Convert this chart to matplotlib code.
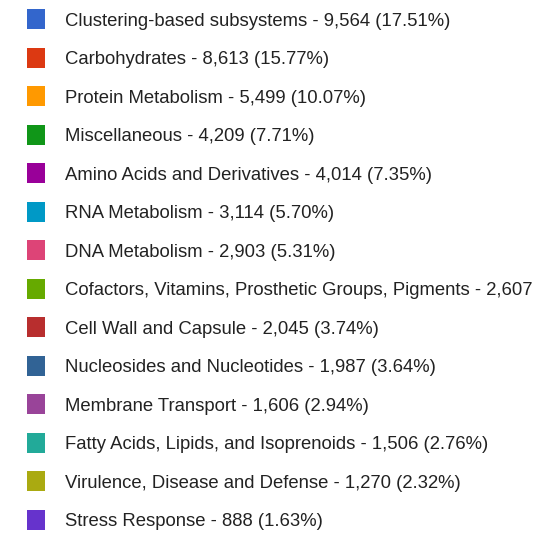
import matplotlib
matplotlib.use("Agg")
import matplotlib.pyplot as plt

categories = [
    "Clustering-based subsystems", "Carbohydrates", "Protein Metabolism",
    "Miscellaneous", "Amino Acids and Derivatives", "RNA Metabolism",
    "DNA Metabolism", "Cofactors, Vitamins, Prosthetic Groups, Pigments",
    "Cell Wall and Capsule", "Nucleosides and Nucleotides",
    "Membrane Transport", "Fatty Acids, Lipids, and Isoprenoids",
    "Virulence, Disease and Defense", "Stress Response",
]
counts = [9564, 8613, 5499, 4209, 4014, 3114, 2903, 2607, 2045, 1987, 1606, 1506, 1270, 888]
percents = [17.51, 15.77, 10.07, 7.71, 7.35, 5.70, 5.31, 4.77, 3.74, 3.64, 2.94, 2.76, 2.32, 1.63]
colors = ["#3366cc", "#dc3912", "#ff9900", "#109618", "#990099", "#0099c6",
          "#dd4477", "#66aa00", "#b82e2e", "#316395", "#994499", "#22aa99",
          "#aaaa11", "#6633cc"]

W, H = 558, 535
CLIP_W = 537
fig = plt.figure(figsize=(W / 100, H / 100), dpi=100)
ax = fig.add_axes([0, 0, CLIP_W / W, 1])
ax.set_xlim(0, CLIP_W)
ax.set_ylim(H, 0)
ax.axis("off")

y0, step = 19.0, 38.5
ys = [y0 + i * step for i in range(len(categories))]

ax.bar([36] * len(ys), [20] * len(ys), width=18, bottom=[y - 10 for y in ys],
       color=colors, linewidth=0)

for y, cat, c, p in zip(ys, categories, counts, percents):
    t = ax.text(65, y + 6.6, f"{cat} - {c:,} ({p:.2f}%)", va="baseline", ha="left",
                fontsize=13.3, color="#222222", family="Liberation Sans")
    t.set_clip_on(True)

fig.savefig("out.png", dpi=100)
